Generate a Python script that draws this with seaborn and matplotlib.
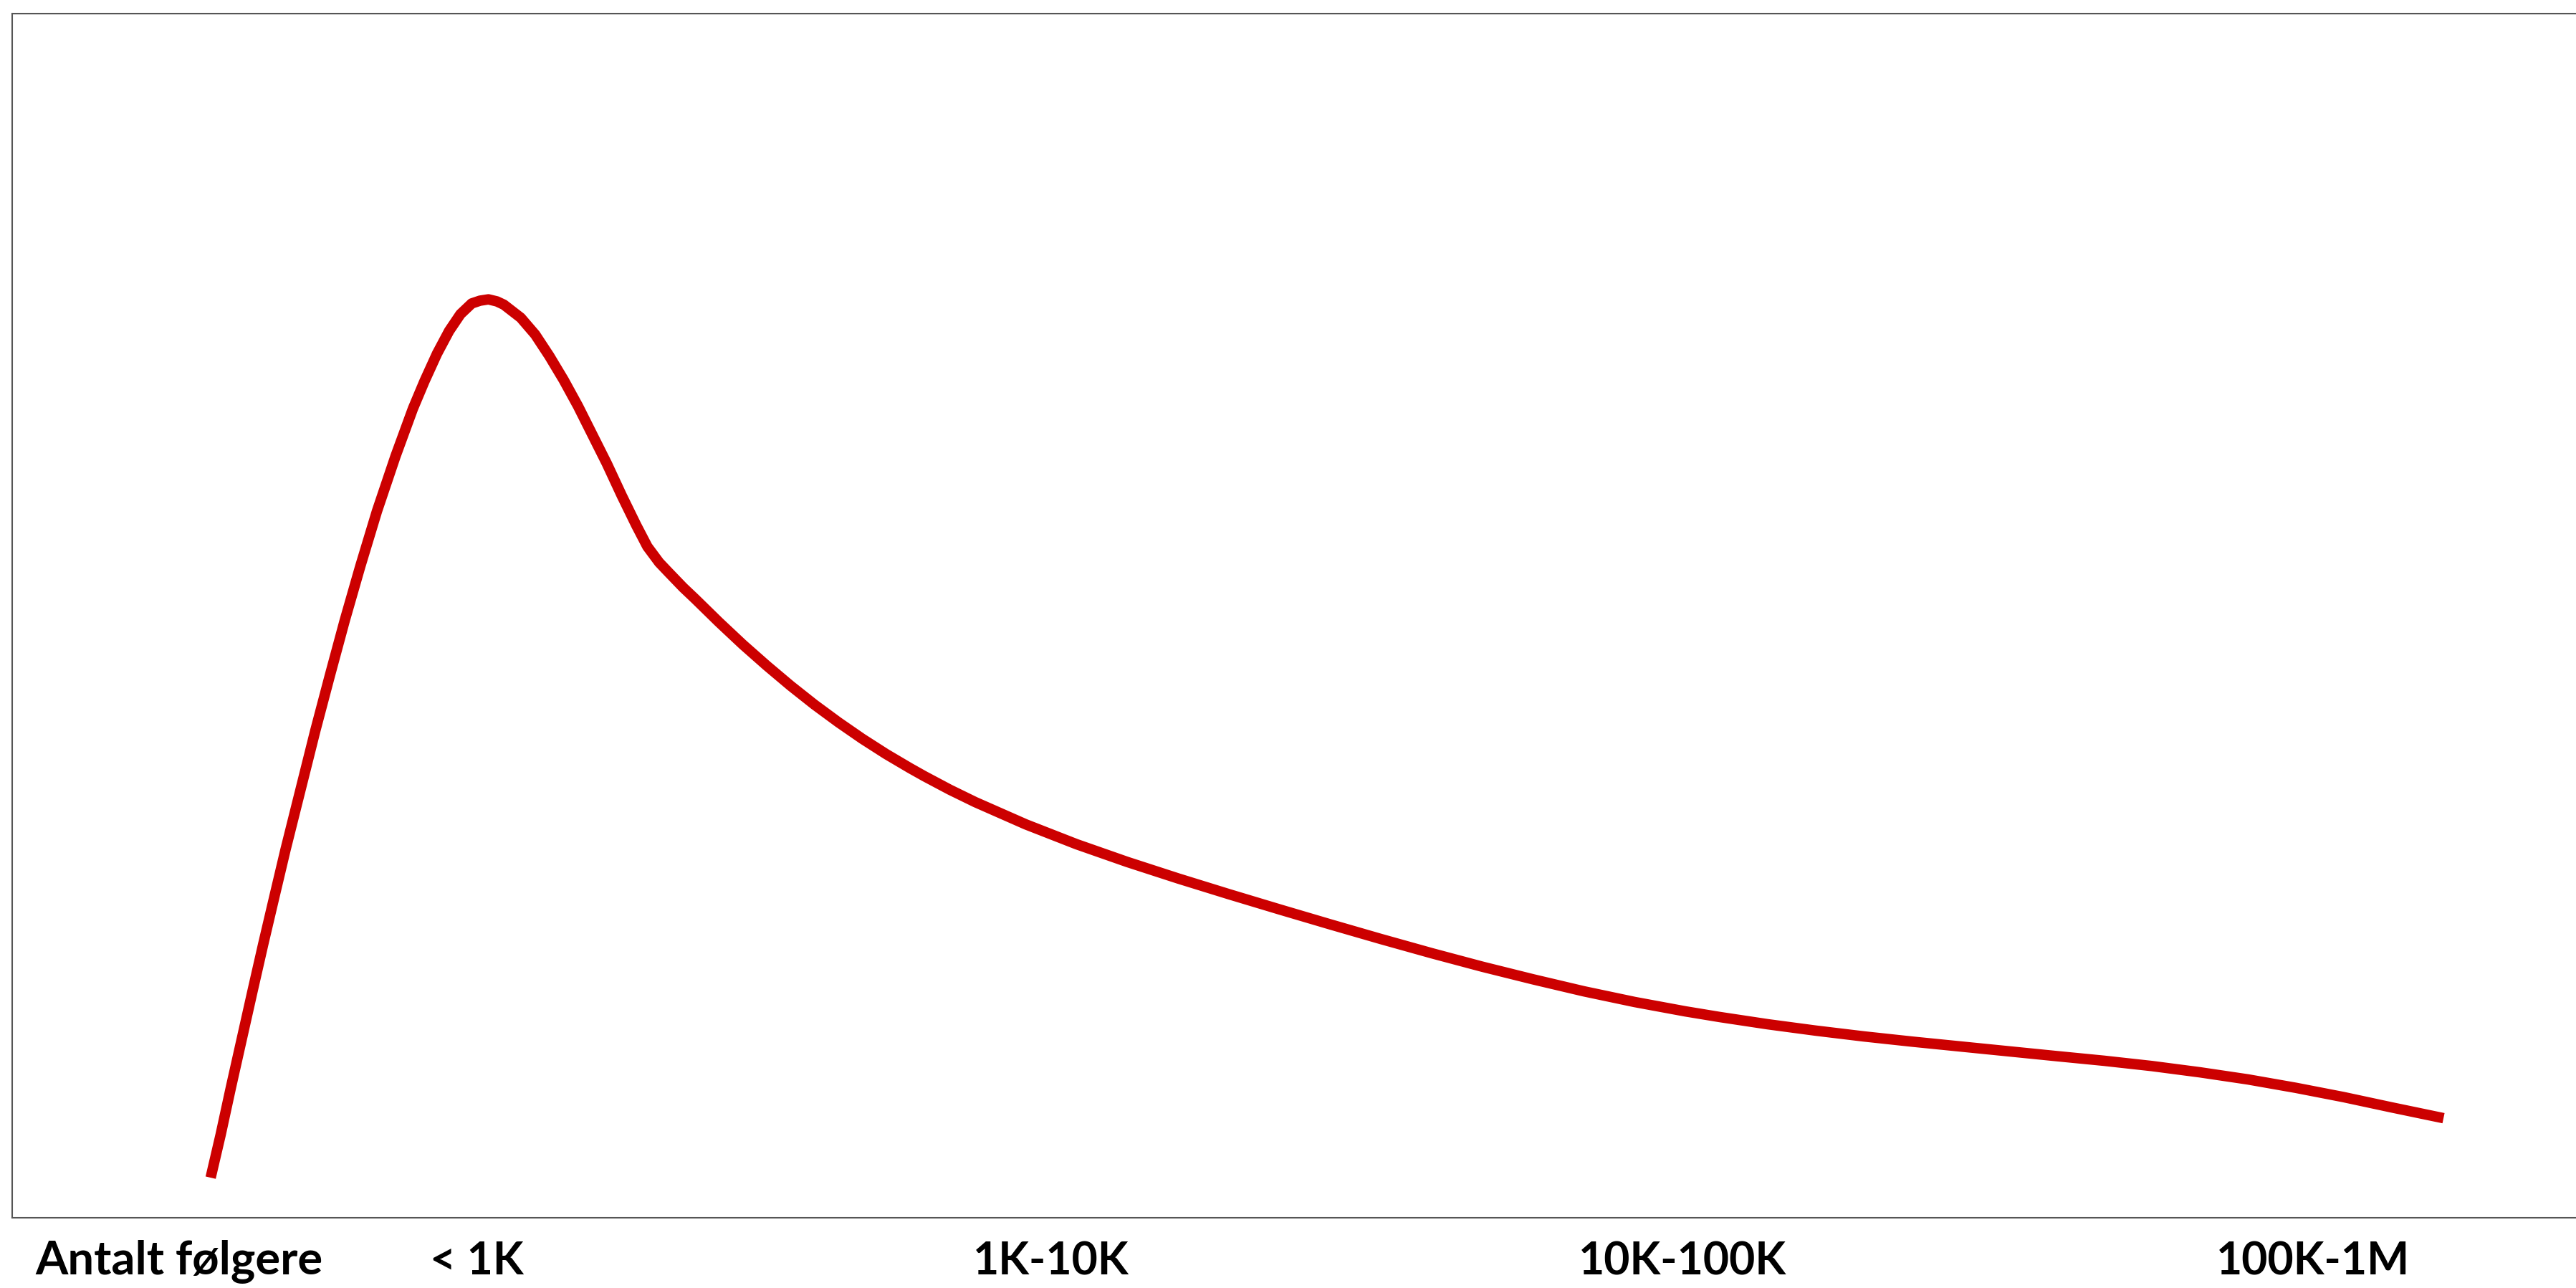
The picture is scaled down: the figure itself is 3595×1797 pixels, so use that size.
import matplotlib
matplotlib.use("Agg")
import matplotlib.pyplot as plt
import seaborn as sns
import pandas as pd

# ---- data (axis units 0-100) ----
x_pos = [7.73, 8.12, 8.52, 8.94, 9.36, 9.78, 10.22, 10.65, 11.11, 11.81,
         12.37, 12.95, 13.56, 14.21, 14.93, 15.61, 16.06, 16.55, 17.02, 17.46,
         17.90, 18.22, 18.55, 18.88, 19.15, 19.81, 20.37, 20.92, 21.48, 22.04,
         22.60, 23.16, 23.75, 24.31, 24.74, 25.20, 25.57, 26.13, 26.60, 27.53,
         28.46, 29.39, 30.32, 31.25, 32.18, 33.11, 34.04, 34.97, 35.53, 36.52,
         37.51, 39.48, 41.46, 43.43, 45.41, 47.38, 49.36, 51.33, 53.31, 55.29,
         57.26, 59.24, 61.21, 63.19, 65.17, 66.51, 68.38, 70.25, 72.12, 73.99,
         75.86, 77.73, 79.60, 81.47, 83.34, 85.21, 87.08, 88.95, 90.81, 92.67,
         94.70]
y_val = [3.33, 6.90, 10.83, 14.82, 18.81, 22.74, 26.73, 30.60, 34.52, 40.48,
         45.00, 49.58, 54.11, 58.69, 63.24, 67.20, 69.48, 71.77, 73.65, 75.04,
         75.93, 76.16, 76.27, 76.10, 75.83, 74.74, 73.35, 71.57, 69.58, 67.40,
         65.02, 62.64, 59.94, 57.50, 55.74, 54.42, 53.59, 52.35, 51.40, 49.46,
         47.60, 45.85, 44.18, 42.61, 41.15, 39.78, 38.51, 37.34, 36.67, 35.55,
         34.52, 32.67, 31.02, 29.55, 28.18, 26.88, 25.61, 24.37, 23.15, 21.97,
         20.85, 19.80, 18.81, 17.92, 17.14, 16.67, 16.07, 15.54, 15.06, 14.63,
         14.23, 13.83, 13.43, 13.04, 12.60, 12.08, 11.49, 10.79, 10.02, 9.17,
         8.27]
tick_pos = [6.50, 18.09, 40.47, 65.06, 89.62]
tick_labels = ["Antalt følgere", "< 1K", "1K-10K", "10K-100K", "100K-1M"]

assert len(x_pos) == len(y_val)
df = pd.DataFrame({"x": x_pos, "y": y_val})

sns.set_theme(style="white")
plt.rcParams["font.family"] = ["Lato", "DejaVu Sans"]

W, H = 3595, 1797
fig = plt.figure(figsize=(W / 100, H / 100), dpi=100)
fig.patch.set_facecolor("white")
ax = fig.add_axes([17 / W, 98 / H, 3583 / W, 1680 / H])

sns.lineplot(data=df, x="x", y="y", ax=ax, color="#CC0000", linewidth=10.5,
             sort=False, estimator=None)
for ln in ax.lines:
    ln.set_solid_capstyle("butt")
    ln.set_solid_joinstyle("round")

ax.set_xlim(0, 100)
ax.set_ylim(0, 100)
ax.set_xlabel("")
ax.set_ylabel("")
ax.set_yticks([])
ax.set_xticks(tick_pos)
ax.set_xticklabels(tick_labels)
ax.tick_params(axis="x", length=0, pad=57, labelsize=45, colors="black")
plt.setp(ax.get_xticklabels(), va="baseline", fontweight="bold")
# first label is a little wider in the reference typeface
ax.get_xticklabels()[0].set_fontsize(47)

for s in ax.spines.values():
    s.set_visible(True)
    s.set_color("#555555")
    s.set_linewidth(1.5)

fig.savefig("out.png", dpi=100, facecolor="white")
